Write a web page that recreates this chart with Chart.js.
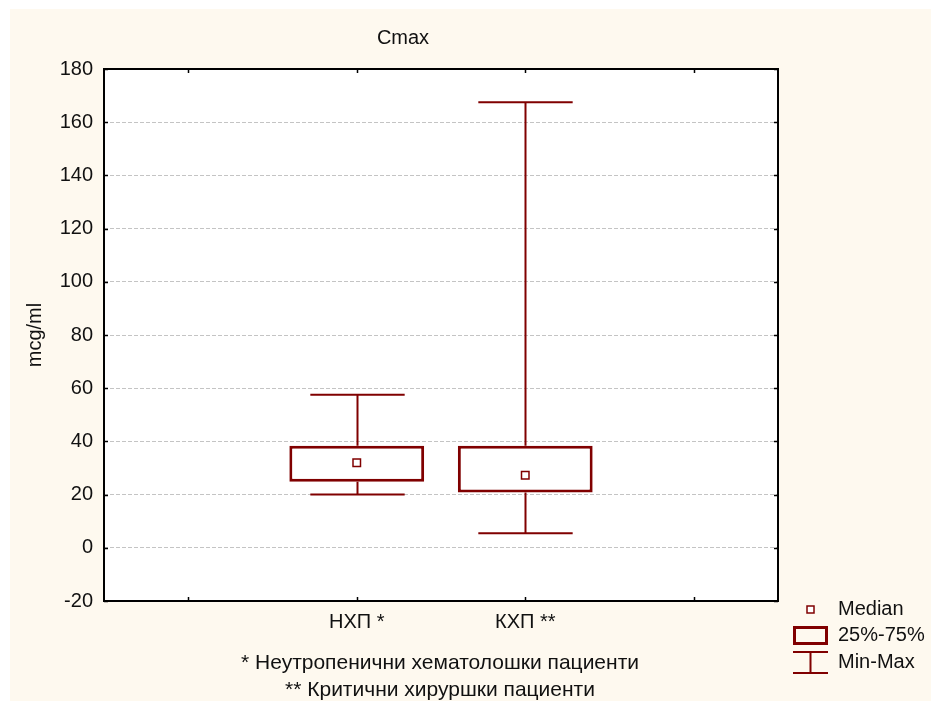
<!DOCTYPE html>
<html>
<head>
<meta charset="utf-8">
<title>Cmax</title>
<script src="https://cdn.jsdelivr.net/npm/chart.js@4"></script>
<style>
  body { margin: 0; background: #ffffff; }
  #wrap { width: 931px; height: 701px; }
</style>
</head>
<body>
<div id="wrap"><canvas id="chartCmax" width="931" height="701"></canvas></div>
<script>
// groups (outer two slots are empty padding on the axis)
const categories = ['', 'НХП *', 'КХП **', ''];
const minVals    = [null, 20.0,  5.5, null];
const q1Vals     = [null, 24.8, 20.8, null];
const medianVals = [null, 32.0, 27.3, null];
const q3Vals     = [null, 38.4, 38.4, null];
const maxVals    = [null, 57.5, 167.5, null];

const yMin = -20, yMax = 180, yStep = 20;
const chartTitle = 'Cmax';
const yTitle = 'mcg/ml';
const footnotes = ['* Неутропенични хематолошки пациенти', '** Критични хируршки пациенти'];
const legendLabels = ['Median', '25%-75%', 'Min-Max'];

const boxColor = '#800000';
const fontFamily = "'Liberation Sans', Arial, sans-serif";
const fontSize = 20;

const boxData = categories.map((c, i) => q1Vals[i] == null ? null : [q1Vals[i], q3Vals[i]]);

// background, whiskers, frame, inner ticks and all free text
const decorPlugin = {
    id: 'decor',
    beforeDraw(chart) {
        const ctx = chart.ctx;
        ctx.save();
        ctx.fillStyle = '#ffffff';
        ctx.fillRect(0, 0, chart.width, chart.height);
        ctx.fillStyle = '#fef9ef';
        ctx.fillRect(10, 9, chart.width - 10, chart.height - 9);
        const a = chart.chartArea;
        ctx.fillStyle = '#ffffff';
        ctx.fillRect(a.left, a.top, a.right - a.left, a.bottom - a.top);
        ctx.restore();
    },
    beforeDatasetsDraw(chart) {
        const ctx = chart.ctx;
        const x = chart.scales.x, y = chart.scales.y;
        const slot = x.getPixelForValue(1) - x.getPixelForValue(0);
        const cap = slot * 0.28;
        ctx.save();
        ctx.strokeStyle = boxColor;
        ctx.lineWidth = 2;
        categories.forEach((c, i) => {
            if (minVals[i] == null) return;
            const px = Math.round(x.getPixelForValue(i)) + 0.5;
            const yMn = y.getPixelForValue(minVals[i]);
            const yMx = y.getPixelForValue(maxVals[i]);
            ctx.beginPath();
            ctx.moveTo(px, yMx); ctx.lineTo(px, y.getPixelForValue(q3Vals[i]));
            ctx.moveTo(px, y.getPixelForValue(q1Vals[i])); ctx.lineTo(px, yMn);
            ctx.moveTo(px - cap, yMx); ctx.lineTo(px + cap, yMx);
            ctx.moveTo(px - cap, yMn); ctx.lineTo(px + cap, yMn);
            ctx.stroke();
        });
        ctx.restore();
    },
    afterDraw(chart) {
        const ctx = chart.ctx;
        const a = chart.chartArea;
        const x = chart.scales.x, y = chart.scales.y;
        ctx.save();

        // frame
        ctx.strokeStyle = '#000000';
        ctx.lineWidth = 2;
        ctx.strokeRect(a.left, a.top, a.right - a.left, a.bottom - a.top);

        // inner tick marks
        ctx.lineWidth = 1.5;
        ctx.beginPath();
        y.ticks.forEach(t => {
            const py = Math.round(y.getPixelForValue(t.value)) + 0.5;
            ctx.moveTo(a.left, py); ctx.lineTo(a.left + 4, py);
            ctx.moveTo(a.right, py); ctx.lineTo(a.right - 4, py);
        });
        categories.forEach((c, i) => {
            const px = Math.round(x.getPixelForValue(i)) + 0.5;
            ctx.moveTo(px, a.top); ctx.lineTo(px, a.top + 4);
            ctx.moveTo(px, a.bottom); ctx.lineTo(px, a.bottom - 4);
        });
        ctx.stroke();

        ctx.fillStyle = '#111111';
        ctx.font = fontSize + 'px ' + fontFamily;
        ctx.textBaseline = 'middle';

        // title
        ctx.textAlign = 'center';
        ctx.fillText(chartTitle, 403, 38);

        // y axis title
        ctx.save();
        ctx.translate(35, 335);
        ctx.rotate(-Math.PI / 2);
        ctx.fillText(yTitle, 0, 0);
        ctx.restore();

        // footnotes
        ctx.font = (fontSize + 1) + 'px ' + fontFamily;
        ctx.fillText(footnotes[0], 440, 663);
        ctx.fillText(footnotes[1], 440, 690);
        ctx.font = fontSize + 'px ' + fontFamily;

        // legend
        ctx.textAlign = 'left';
        ctx.strokeStyle = boxColor;
        ctx.lineWidth = 1.5;
        ctx.fillStyle = '#ffffff';
        ctx.fillRect(807, 606, 7, 7);
        ctx.strokeRect(807, 606, 7, 7);
        ctx.lineWidth = 3;
        ctx.strokeRect(794.5, 627.5, 32, 16);
        ctx.lineWidth = 2;
        ctx.beginPath();
        ctx.moveTo(793, 652); ctx.lineTo(828, 652);
        ctx.moveTo(810.5, 652); ctx.lineTo(810.5, 673);
        ctx.moveTo(793, 673); ctx.lineTo(828, 673);
        ctx.stroke();
        ctx.fillStyle = '#111111';
        ctx.fillText(legendLabels[0], 838, 609);
        ctx.fillText(legendLabels[1], 838, 635);
        ctx.fillText(legendLabels[2], 838, 662);

        ctx.restore();
    }
};

const config = {
    type: 'bar',
    data: {
        labels: categories,
        datasets: [{
            label: legendLabels[1],
            data: boxData,
            backgroundColor: '#ffffff',
            borderColor: boxColor,
            borderWidth: 3,
            borderSkipped: false,
            categoryPercentage: 1,
            barPercentage: 0.8,
            order: 2
        }, {
            type: 'line',
            label: legendLabels[0],
            data: medianVals,
            showLine: false,
            pointStyle: 'rect',
            pointRadius: 5.3,
            pointBorderWidth: 1.5,
            pointBackgroundColor: '#ffffff',
            pointBorderColor: boxColor,
            order: 1
        }]
    },
    options: {
        responsive: false,
        animation: false,
        layout: { padding: { left: 0, top: 69, right: 153, bottom: 0 } },
        plugins: {
            legend: { display: false },
            title: { display: false },
            tooltip: { enabled: false }
        },
        scales: {
            x: {
                grid: { display: false, drawTicks: false },
                border: { display: false },
                ticks: {
                    color: '#111111',
                    padding: 9,
                    font: { family: fontFamily, size: fontSize },
                    maxRotation: 0
                },
                afterFit: (scale) => { scale.height = 100; }
            },
            y: {
                min: yMin,
                max: yMax,
                grid: { color: '#c4c4c4', lineWidth: 1, drawTicks: false },
                border: { display: false, dash: [4, 2] },
                ticks: {
                    stepSize: yStep,
                    color: '#111111',
                    padding: 11,
                    font: { family: fontFamily, size: fontSize }
                },
                afterFit: (scale) => { scale.width = 104; }
            }
        }
    },
    plugins: [decorPlugin]
};

new Chart(document.getElementById('chartCmax'), config);
</script>
</body>
</html>
